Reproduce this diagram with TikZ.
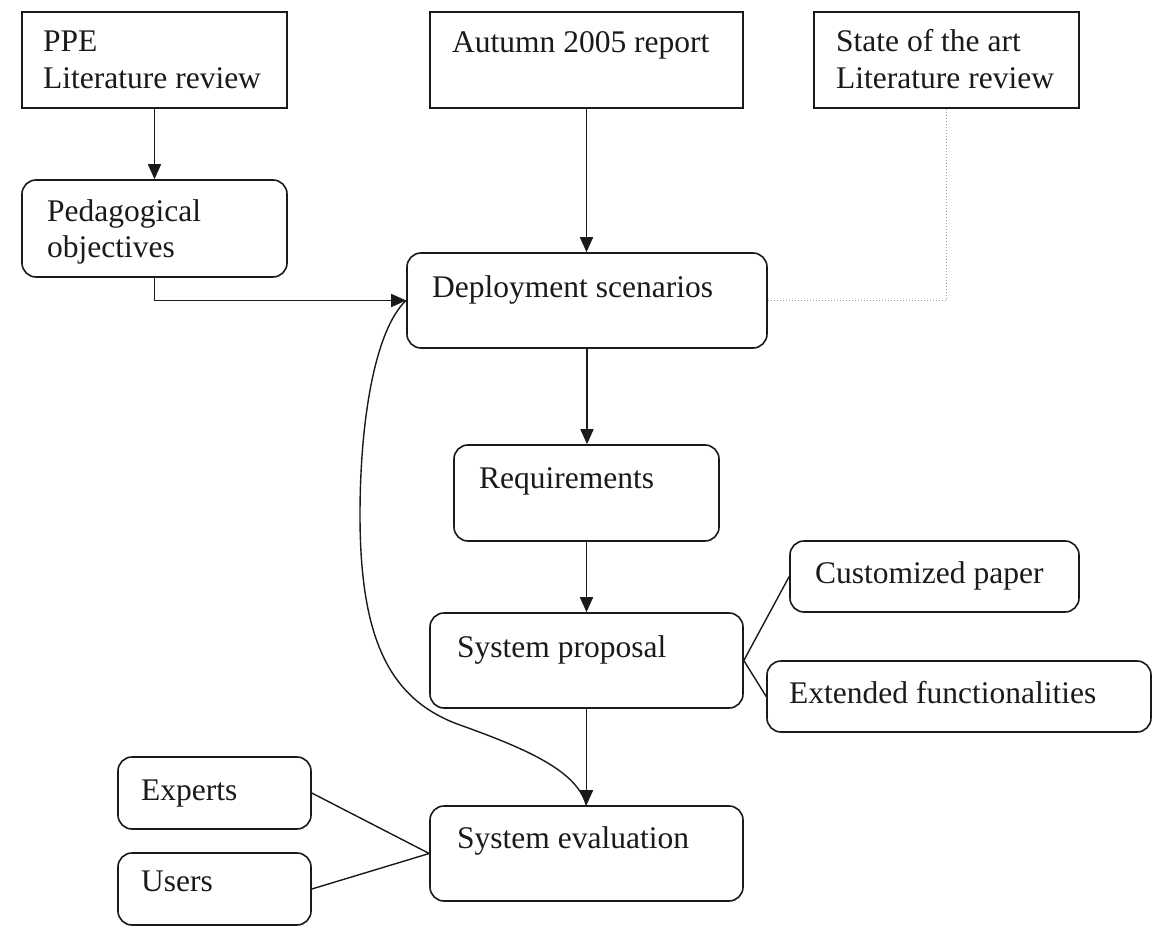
\documentclass[tikz,border=0pt]{standalone}
\usepackage{fontspec}
\setmainfont{Liberation Serif}
\usetikzlibrary{arrows.meta}
\definecolor{ink}{HTML}{1A1A1A}
\definecolor{dotgray}{HTML}{9A9A9A}
\begin{document}
\begin{tikzpicture}[x=1pt,y=-1pt,
  box/.style={draw=ink, line width=1.6pt, inner sep=0pt, fill=white},
  sharpbox/.style={box},
  roundbox/.style={box, rounded corners=14pt},
  lbl/.style={anchor=base west, inner sep=0pt, font=\fontsize{31.5}{37}\selectfont, text=ink},
  flow/.style={draw=ink, line width=1.6pt, -{Triangle[length=15pt,width=13pt]}},
  link/.style={draw=ink, line width=1.4pt},
  faint/.style={draw=dotgray, line width=1.3pt, dash pattern=on 1.5pt off 1.5pt},
]
% canvas
\path[fill=white] (0,0) rectangle (1167,936);
\useasboundingbox (0,0) rectangle (1167,936);

% feedback loop from evaluation back to the scenarios (drawn first, under the boxes)
\coordinate (loopL) at (406,300.5);
\coordinate (loopE) at (586.5,806);
\draw[link] (loopL)
  .. controls (375,330) and (360,420) .. (360,515)
  .. controls (360,640) and (390,700) .. (460,725)
  .. controls (530,750) and (578,772) .. (loopE);

% sources
\node[sharpbox, minimum width=265pt, minimum height=96pt] (ppe) at (154.5,60) {};
\node[sharpbox, minimum width=313pt, minimum height=96pt] (aut) at (586.5,60) {};
\node[sharpbox, minimum width=265pt, minimum height=96pt] (sota) at (946.5,60) {};

% process steps
\node[roundbox, minimum width=265pt, minimum height=97pt] (ped) at (154.5,228.5) {};
\node[roundbox, minimum width=360pt, minimum height=95pt] (dep) at (587,300.5) {};
\node[roundbox, minimum width=265pt, minimum height=96pt] (req) at (586.5,493) {};
\node[roundbox, minimum width=313pt, minimum height=95pt] (prop) at (586.5,660.5) {};
\node[roundbox, minimum width=313pt, minimum height=95pt] (eval) at (586.5,853.5) {};

% side items
\node[roundbox, minimum width=289pt, minimum height=71pt] (cust) at (934.5,576.5) {};
\node[roundbox, minimum width=384pt, minimum height=71pt] (ext) at (959,696.5) {};
\node[roundbox, minimum width=193pt, minimum height=72pt] (exp) at (214.5,793) {};
\node[roundbox, minimum width=193pt, minimum height=72pt] (usr) at (214.5,889) {};

% labels
\node[lbl] (ppeA) at (43,52) {PPE};
\node[lbl] (ppeB) at (43,89) {Literature review};
\node[lbl] (autA) at (452,53) {Autumn 2005 report};
\node[lbl] (sotaA) at (836,52) {State of the art};
\node[lbl] (sotaB) at (836,89) {Literature review};
\node[lbl] (pedA) at (47,222) {Pedagogical};
\node[lbl] (pedB) at (47,258) {objectives};
\node[lbl] (depA) at (432,297) {Deployment scenarios};
\node[lbl] (reqA) at (479,488) {Requirements};
\node[lbl] (propA) at (457,657) {System proposal};
\node[lbl] (custA) at (815,583) {Customized paper};
\node[lbl] (extA) at (789,703) {Extended functionalities};
\node[lbl] (evalA) at (457,848) {System evaluation};
\node[lbl] (expA) at (141,800) {Experts};
\node[lbl] (usrA) at (141,891) {Users};

% connectors
\draw[flow] (ppe.south) -- (ped.north);
\draw[flow] (ped.south) -- (ped.south |- dep.west) -- (dep.west);
\draw[flow] (aut.south) -- (aut.south |- dep.north);
\draw[faint] (sota.south) -- (sota.south |- dep.east) -- (dep.east);
\draw[flow] (dep.south) -- (dep.south |- req.north);
\draw[flow] (req.south) -- (prop.north);
\draw[flow] (prop.south) -- (eval.north);
\draw[link] (prop.east) -- (cust.west);
\draw[link] (prop.east) -- (ext.west);
\draw[link] (exp.east) -- (eval.west);
\draw[link] (usr.east) -- (eval.west);
\end{tikzpicture}
\end{document}
